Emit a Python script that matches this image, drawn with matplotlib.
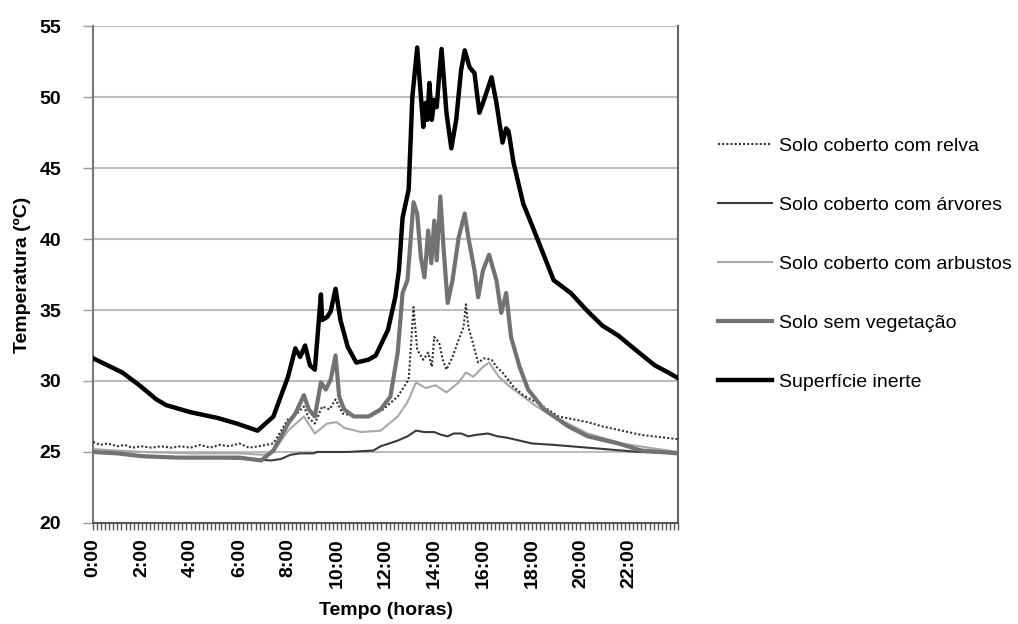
import matplotlib
matplotlib.use("Agg")
import matplotlib.pyplot as plt
from matplotlib.ticker import MultipleLocator

plt.rcParams['font.family'] = ['Liberation Sans', 'DejaVu Sans']

# (hora, temperatura ºC)
relva = [(0, 25.7), (0.3, 25.5), (0.6, 25.6), (1.0, 25.4), (1.3, 25.5), (1.6, 25.3),
         (2.0, 25.4), (2.4, 25.3), (2.8, 25.4), (3.2, 25.3), (3.6, 25.4), (4.0, 25.3),
         (4.4, 25.5), (4.8, 25.3), (5.2, 25.5), (5.6, 25.4), (6.0, 25.6), (6.4, 25.3),
         (6.8, 25.4), (7.1, 25.5), (7.4, 25.6), (8.0, 27.3), (8.3, 27.6), (8.65, 28.2),
         (8.85, 27.4), (9.1, 27.0), (9.4, 28.2), (9.7, 28.0), (9.95, 28.7), (10.25, 27.7),
         (10.85, 27.5), (11.4, 27.5), (11.9, 28.0), (12.5, 28.9), (12.95, 30.1), (13.15, 35.2),
         (13.3, 32.2), (13.55, 31.5), (13.75, 32.0), (13.9, 31.0), (14.0, 33.1), (14.2, 32.7),
         (14.35, 31.5), (14.5, 30.8), (14.75, 31.7), (15.0, 32.9), (15.2, 33.8), (15.3, 35.4),
         (15.4, 33.8), (15.55, 32.9), (15.8, 31.3), (16.05, 31.6), (16.35, 31.5), (16.55, 31.0),
         (16.8, 30.6), (17.25, 29.6), (17.65, 29.0), (18.2, 28.5), (19.1, 27.5), (20.3, 27.1),
         (20.9, 26.8), (22.5, 26.2), (24.0, 25.9)]

arvores = [(0, 25.0), (1.5, 24.8), (3, 24.6), (5, 24.6), (6.5, 24.5), (7.3, 24.4), (7.7, 24.5),
           (8.1, 24.8), (8.5, 24.9), (9.05, 24.9), (9.2, 25.0), (10.45, 25.0), (11.5, 25.1),
           (11.8, 25.4), (12.5, 25.8), (12.9, 26.1), (13.25, 26.5), (13.6, 26.4), (14.0, 26.4),
           (14.3, 26.2), (14.55, 26.1), (14.8, 26.3), (15.1, 26.3), (15.4, 26.1), (15.7, 26.2),
           (16.2, 26.3), (16.6, 26.1), (17.0, 26.0), (18.0, 25.6), (18.9, 25.5), (20.3, 25.3),
           (21.7, 25.1), (22.4, 25.0), (24.0, 24.9)]

arbustos = [(0, 25.2), (2, 25.0), (4, 24.9), (6, 24.9), (7.0, 24.8), (7.4, 25.0), (8.0, 26.5),
            (8.65, 27.5), (9.1, 26.3), (9.6, 27.0), (10.0, 27.1), (10.3, 26.7), (11.0, 26.4),
            (11.8, 26.5), (12.5, 27.5), (12.9, 28.5), (13.25, 29.9), (13.65, 29.5), (14.05, 29.7),
            (14.5, 29.2), (15.0, 29.9), (15.3, 30.6), (15.6, 30.3), (16.0, 31.0), (16.25, 31.3),
            (16.65, 30.3), (17.1, 29.6), (17.65, 28.9), (18.2, 28.2), (18.9, 27.5), (20.3, 26.3),
            (21.7, 25.6), (22.8, 25.3), (24.0, 25.0)]

sem_vegetacao = [(0, 25.0), (1.0, 24.9), (2.0, 24.7), (3.5, 24.6), (5.0, 24.6), (6.0, 24.6),
                 (6.9, 24.4), (7.4, 25.1), (8.0, 27.0), (8.3, 27.7), (8.65, 29.0), (8.85, 28.0),
                 (9.1, 27.5), (9.35, 29.9), (9.55, 29.4), (9.75, 30.1), (9.95, 31.8), (10.1, 28.9),
                 (10.3, 28.0), (10.7, 27.5), (11.3, 27.5), (11.8, 28.0), (12.2, 28.9), (12.5, 32.0),
                 (12.7, 36.2), (12.9, 37.1), (13.15, 42.6), (13.3, 41.8), (13.45, 38.7), (13.6, 37.3),
                 (13.75, 40.6), (13.88, 38.3), (14.0, 41.3), (14.1, 38.5), (14.25, 43.0), (14.38, 39.4),
                 (14.55, 35.5), (14.75, 37.1), (15.0, 40.1), (15.25, 41.8), (15.4, 40.1), (15.65, 37.8),
                 (15.8, 35.9), (16.0, 37.8), (16.25, 38.9), (16.55, 37.1), (16.75, 34.8), (16.95, 36.2),
                 (17.15, 33.1), (17.5, 31.0), (17.85, 29.4), (18.5, 28.0), (19.5, 26.8), (20.3, 26.1),
                 (21.55, 25.6), (22.5, 25.1), (24.0, 24.9)]

inerte = [(0, 31.6), (1.2, 30.6), (1.9, 29.7), (2.6, 28.7), (3.0, 28.3), (4.0, 27.8), (5.1, 27.4),
          (5.9, 27.0), (6.75, 26.5), (7.4, 27.5), (8.0, 30.3), (8.3, 32.3), (8.5, 31.7), (8.7, 32.5),
          (8.9, 31.1), (9.1, 30.8), (9.35, 36.1), (9.4, 34.3), (9.6, 34.5), (9.75, 34.9), (9.95, 36.5),
          (10.15, 34.3), (10.45, 32.4), (10.8, 31.3), (11.3, 31.5), (11.6, 31.8), (12.1, 33.6),
          (12.4, 35.9), (12.55, 37.8), (12.7, 41.5), (12.95, 43.5), (13.1, 50.0), (13.3, 53.5),
          (13.4, 51.2), (13.55, 47.9), (13.65, 49.6), (13.72, 48.4), (13.8, 51.0), (13.9, 48.4),
          (14.0, 49.8), (14.1, 49.3), (14.2, 51.5), (14.3, 53.4), (14.5, 48.9), (14.7, 46.4),
          (14.9, 48.4), (15.1, 51.9), (15.25, 53.3), (15.45, 52.1), (15.65, 51.7), (15.85, 48.9),
          (16.0, 49.6), (16.35, 51.4), (16.55, 49.6), (16.8, 46.8), (16.95, 47.8), (17.05, 47.6),
          (17.25, 45.4), (17.65, 42.5), (18.05, 40.8), (18.9, 37.1), (19.6, 36.2), (20.3, 34.9),
          (20.9, 33.9), (21.55, 33.2), (22.4, 32.0), (23.05, 31.1), (23.6, 30.6), (24.0, 30.2)]

hour_ticks = list(range(0, 24, 2))
hour_labels = [f"{h}:00" for h in hour_ticks]

fig = plt.figure(figsize=(10.18, 6.24), dpi=100)
ax = fig.add_axes([0.0914, 0.162, 0.5746, 0.796])

def xy(series):
    return [p[0] for p in series], [p[1] for p in series]

l_arb, = ax.plot(*xy(arbustos), color='#a8a8a8', lw=1.5, zorder=2)
l_rel, = ax.plot(*xy(relva), color='#333333', lw=1.5, ls=(0, (1, 1)), zorder=3)
l_arv, = ax.plot(*xy(arvores), color='#3a3a3a', lw=1.5, zorder=3)
l_sem, = ax.plot(*xy(sem_vegetacao), color='#727272', lw=3, zorder=4)
l_ine, = ax.plot(*xy(inerte), color='black', lw=3.2, zorder=5)

ax.set_xlim(0, 24)
ax.set_ylim(20, 55)
ax.set_yticks(range(20, 56, 5))
ax.set_xticks(hour_ticks)
ax.set_xticklabels(hour_labels, rotation=90, fontweight='bold', fontsize=14)
ax.xaxis.set_minor_locator(MultipleLocator(1 / 6))
for lab in ax.get_yticklabels():
    lab.set_fontweight('bold')
    lab.set_fontsize(14)
ax.tick_params(axis='x', which='both', length=5, width=1, color='#555555', direction='out', pad=6)
ax.tick_params(axis='y', length=7, width=1, color='#999999', pad=16)

ax.grid(axis='y', color='#bdbdbd', lw=1.5)
ax.set_axisbelow(True)
ax.spines['top'].set_visible(False)
ax.spines['left'].set_color('#777777')
ax.spines['right'].set_color('#666666')
ax.spines['bottom'].set_color('#555555')
for s in ('left', 'right', 'bottom'):
    ax.spines[s].set_linewidth(1.5)

ax.set_ylabel("Temperatura (ºC)", fontweight='bold', fontsize=14, labelpad=6)
ax.set_xlabel("Tempo (horas)", fontweight='bold', fontsize=14, labelpad=10)

fig.legend([l_rel, l_arv, l_arb, l_sem, l_ine],
           ["Solo coberto com relva", "Solo coberto com árvores", "Solo coberto com arbustos",
            "Solo sem vegetação", "Superfície inerte"],
           loc='upper left', bbox_to_anchor=(0.688, 0.808), frameon=False, fontsize=14,
           handlelength=2.8, handletextpad=0.35, labelspacing=2.13)

fig.savefig("out.png", dpi=100)
